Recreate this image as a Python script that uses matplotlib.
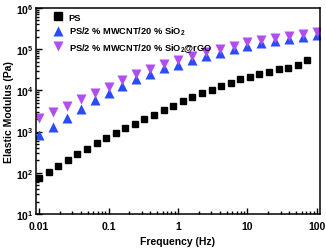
import matplotlib
matplotlib.use("Agg")
import matplotlib.pyplot as plt
from matplotlib.ticker import FixedLocator, FixedFormatter, LogLocator, NullFormatter

plt.rcParams['font.family'] = ['Liberation Sans', 'DejaVu Sans']
plt.rcParams['font.weight'] = 'bold'
plt.rcParams['axes.labelweight'] = 'bold'
plt.rcParams['mathtext.fontset'] = 'custom'
plt.rcParams['mathtext.rm'] = 'Liberation Sans:bold'
plt.rcParams['mathtext.bf'] = 'Liberation Sans:bold'
plt.rcParams['mathtext.default'] = 'bf'

# frequency sweep for PS (Hz)
freq_ps = [0.01, 0.01374, 0.01888, 0.02593, 0.03562, 0.04894, 0.06723, 0.09237,
           0.1269, 0.1743, 0.2395, 0.3290, 0.4520, 0.6210, 0.8532, 1.172, 1.610,
           2.212, 3.039, 4.175, 5.736, 7.880, 10.83, 14.87, 20.43, 28.07, 38.57,
           52.98, 72.79]
mod_ps = [75, 103, 147, 209, 281, 385, 518, 684, 940, 1222, 1528, 2018, 2566,
          3388, 4169, 5383, 7000, 8892, 10450, 12700, 15530, 18780, 21340,
          24830, 28700, 33900, 35820, 42360, 54180]

# frequency sweep for composites (Hz)
freq_comp = [0.01, 0.01585, 0.02512, 0.03981, 0.0631, 0.1, 0.1585, 0.2512,
             0.3981, 0.631, 1, 1.585, 2.512, 3.981, 6.31, 10, 15.85, 25.12,
             39.81, 63.1, 100]
mod_sio2 = [841, 1315, 2147, 3485, 5692, 8510, 13150, 19410, 25530, 35240,
            42360, 55080, 67700, 81300, 101700, 122200, 139700, 156200, 177500,
            195300, 222000]
mod_rgo = [2110, 3034, 4236, 6266, 8750, 12420, 17570, 24550, 32430, 42850,
           55080, 67700, 84600, 101700, 122200, 147600, 165200, 187800, 213400,
           234600, 266800]

xticks = [0.01, 0.1, 1, 10, 100]
xtick_labels = ['0.01', '0.1', '1', '10', '100']

fig = plt.figure(figsize=(3.26, 2.51), dpi=100)
ax = fig.add_axes([36 / 326, 1 - 215 / 251, 284 / 326, 206 / 251])

ax.plot(freq_ps, mod_ps, 's', color='black', ms=4.5, mec='black', label='PS')
ax.plot(freq_comp, mod_sio2, '^', color='#2a4cf6', ms=6.5, mec='none',
        label=r'PS/2 % MWCNT/20 % SiO$_2$')
ax.plot(freq_comp, mod_rgo, 'v', color='#b04ef2', ms=6.5, mec='none',
        label=r'PS/2 % MWCNT/20 % SiO$_2$@rGO')

ax.set_xscale('log')
ax.set_yscale('log')
ax.set_xlim(0.00905, 110.5)
ax.set_ylim(10, 1e6)

ax.xaxis.set_major_locator(FixedLocator(xticks))
ax.xaxis.set_major_formatter(FixedFormatter(xtick_labels))
ax.xaxis.set_minor_locator(LogLocator(base=10, subs=range(2, 10), numticks=20))
ax.xaxis.set_minor_formatter(NullFormatter())
ax.yaxis.set_major_locator(LogLocator(base=10, numticks=10))
ax.yaxis.set_minor_locator(LogLocator(base=10, subs=range(2, 10), numticks=20))
ax.yaxis.set_minor_formatter(NullFormatter())

ax.tick_params(which='both', direction='in', top=False, right=False,
               labelsize=7.5, width=1)
ax.tick_params(which='major', length=4)
ax.tick_params(which='minor', length=2)
ax.tick_params(axis='x', which='major', pad=5)
ax.tick_params(axis='y', which='major', pad=2)
for sp in ax.spines.values():
    sp.set_linewidth(1.1)

ax.set_xlabel('Frequency (Hz)', fontsize=7.5, labelpad=4)
ax.set_ylabel('Elastic Modulus (Pa)', fontsize=7.5, labelpad=1)

ax.legend(loc='upper left', frameon=False, fontsize=6.7, handletextpad=0.5,
          borderaxespad=0.1, labelspacing=0.35, handlelength=1.3,
          markerscale=1.2, bbox_to_anchor=(0.04, 1.0))

fig.savefig('out.png', dpi=100)
